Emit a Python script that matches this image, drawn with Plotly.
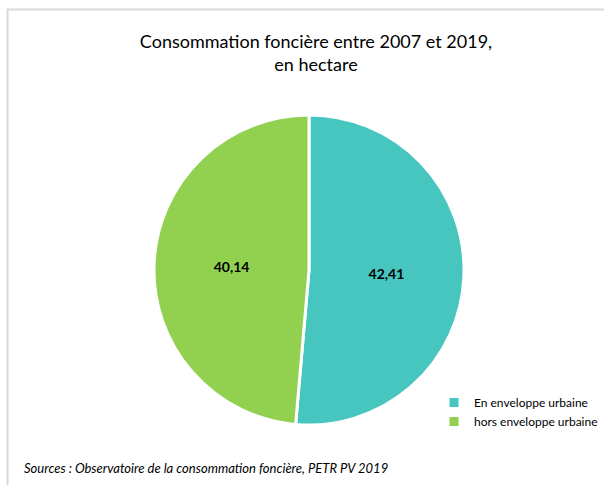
import plotly.graph_objects as go

categories = ["En enveloppe urbaine", "hors enveloppe urbaine"]
values = [42.41, 40.14]
colors = ["#47C5BF", "#92D050"]

W, H = 604, 485
FONT = "Lato"

def px(x):
    return x / W

def py(y):
    return 1 - y / H

fig = go.Figure(go.Pie(
    labels=categories,
    values=values,
    sort=False,
    direction="clockwise",
    rotation=0,
    marker=dict(colors=colors, line=dict(color="white", width=3)),
    textinfo="value",
    texttemplate="<b>%{value:.2f}</b>",
    textposition="inside",
    insidetextorientation="horizontal",
    textfont=dict(family=FONT, size=14, color="#000000"),
    domain=dict(x=[px(153), px(465)], y=[py(425), py(115)]),
    hoverinfo="label+value",
))

fig.update_layout(
    width=W, height=H,
    margin=dict(l=0, r=0, t=0, b=0, autoexpand=False),
    paper_bgcolor="white",
    plot_bgcolor="white",
    separators=", ",
    font=dict(family=FONT, color="#000000"),
    title=dict(
        text="Consommation foncière entre 2007 et 2019,<br>en hectare",
        x=px(316), xanchor="center",
        y=py(48), yanchor="top",
        font=dict(family=FONT, size=18, color="#000000"),
    ),
    legend=dict(
        xref="container", yref="container",
        x=px(434), xanchor="left",
        y=py(388), yanchor="top",
        font=dict(family=FONT, size=12, color="#000000"),
        bgcolor="rgba(0,0,0,0)",
        itemwidth=30,
        tracegroupgap=0,
    ),
    shapes=[dict(
        type="rect", xref="paper", yref="paper",
        x0=px(7.5), x1=1.2, y0=-0.2, y1=py(9.5),
        line=dict(color="#D9D9D9", width=2),
        fillcolor="rgba(0,0,0,0)",
        layer="below",
    )],
    annotations=[dict(
        text="<i>Sources : Observatoire de la consommation foncière, PETR PV 2019</i>",
        xref="paper", yref="paper",
        x=px(22), y=py(468), xanchor="left", yanchor="middle",
        showarrow=False,
        font=dict(family=FONT, size=13, color="#000000"),
    )],
)

fig.write_html("out.html")
